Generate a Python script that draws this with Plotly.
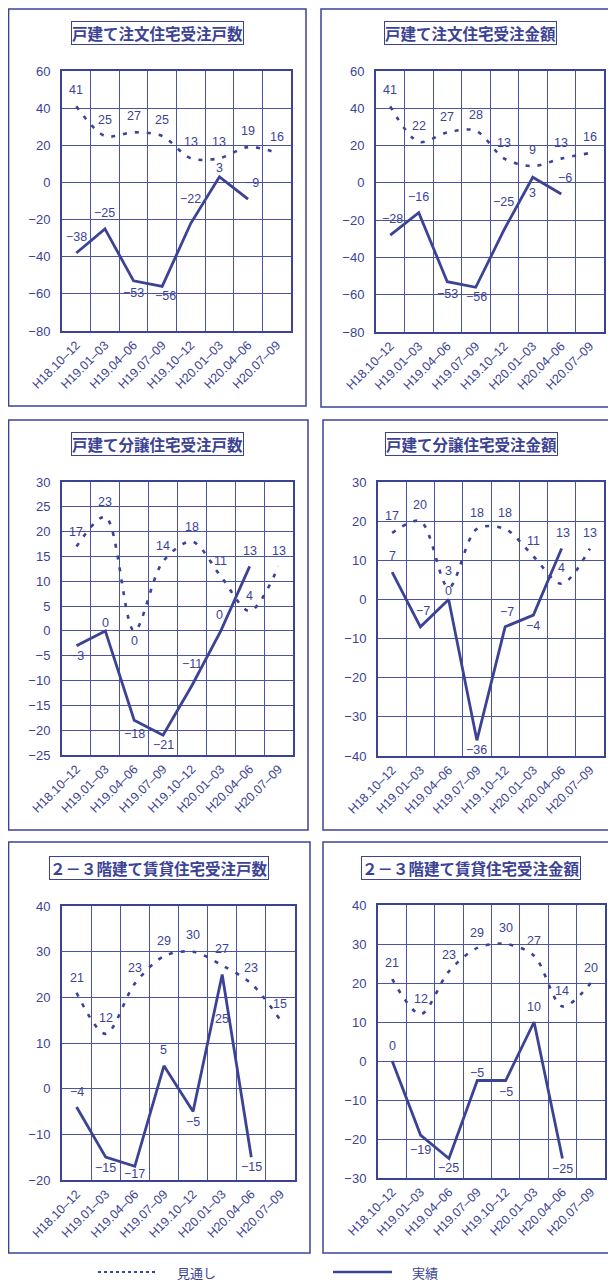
import plotly.graph_objects as go

W, H = 616, 1280
OFF = 8  # page body margin offset
NAVY = "#3c4395"
GRID = "#4d53a3"

categories = ["H18.10–12", "H19.01–03", "H19.04–06", "H19.07–09",
              "H19.10–12", "H20.01–03", "H20.04–06", "H20.07–09"]

titles = ["戸建て注文住宅受注戸数", "戸建て注文住宅受注金額",
          "戸建て分譲住宅受注戸数", "戸建て分譲住宅受注金額",
          "２－３階建て賃貸住宅受注戸数", "２－３階建て賃貸住宅受注金額"]

forecast_1 = [41, 25, 27, 25, 13, 13, 19, 16]
actual_1 = [-38, -25, -53, -56, -22, 3, -9, None]
forecast_2 = [41, 22, 27, 28, 13, 9, 13, 16]
actual_2 = [-28, -16, -53, -56, -25, 3, -6, None]
forecast_3 = [17, 23, 0, 14, 18, 11, 4, 13]
actual_3 = [-3, 0, -18, -21, -11, 0, 13, None]
forecast_4 = [17, 20, 3, 18, 18, 11, 4, 13]
actual_4 = [7, -7, 0, -36, -7, -4, 13, None]
forecast_5 = [21, 12, 23, 29, 30, 27, 23, 15]
actual_5 = [-4, -15, -17, 5, -5, 25, -15, None]
forecast_6 = [21, 12, 23, 29, 30, 27, 14, 20]
actual_6 = [0, -19, -25, -5, -5, 10, -25, None]

y_ranges = [(-80, 60, 20), (-80, 60, 20), (-25, 30, 5),
            (-40, 30, 10), (-20, 40, 10), (-30, 40, 10)]

legend_names = ["見通し", "実績"]

forecasts = [forecast_1, forecast_2, forecast_3, forecast_4, forecast_5, forecast_6]
actuals = [actual_1, actual_2, actual_3, actual_4, actual_5, actual_6]

# ---- layout geometry (pixels in the final picture) ----
plot_px = [(62, 291, 71, 331), (376, 604, 71, 332),
           (62, 293, 482, 755), (378, 604, 482, 756),
           (62, 295, 906, 1180), (378, 605, 905, 1178)]
border_px = [(8.6, 306, 9, 406), (321, 626, 9, 407),
             (8.6, 308, 420, 830), (323, 626, 420, 830),
             (8.6, 310, 842, 1253), (323, 626, 842, 1253)]
title_px = [(157, 33), (470, 33), (157, 444), (471, 444), (158.5, 867.5), (470.5, 867.5)]

f_shift = [[16] * 8, [16] * 8,
           [15, 15, -10, 15, 15, 15, 15, 15],
           [17, 16, 17, 16, 16, 15, 16, 16],
           [15, 16, 16, 15, 17, 16, 16, 16],
           [16, 15, 16, 15, 16, 15, 15, 15]]
a_shift = [[16, 16, -12, -10, 24, 9, 16],
           [16, 16, -12, -10, 27, -16, 16],
           [-10, 8, -14, -10, 22, 16, 15],
           [16, 16, 8, -10, 15, -11, 16],
           [15, -11, -8, 16, -10, -44, -10],
           [15, -15, -9, 8, -11, 15, -10]]
a_xshift = [[0, 0, 0, 3, 0, 0, 4],
            [2, 0, 0, 1, -1, 0, 4],
            [1, 0, 0, 0, 0, -1, 0],
            [0, 3, 0, 0, 2, 0, 1],
            [0, 0, 0, 0, 0, 0, 0],
            [0, 0, 0, 0, 0, 0, 0]]


def px(x):
    return (x - OFF) / W


def py(y):
    return 1 - (y - OFF) / H


def fmt(v):
    return str(v).replace("-", "−")


fig = go.Figure()
shapes = []
annotations = []
layout_axes = {}

for i in range(6):
    n = i + 1
    xa = "x" if n == 1 else f"x{n}"
    ya = "y" if n == 1 else f"y{n}"
    fig.add_trace(go.Scatter(
        x=categories, y=forecasts[i], mode="lines", xaxis=xa, yaxis=ya,
        line=dict(color=NAVY, width=2.6, dash="4px,8px", shape="spline", smoothing=0.9),
        showlegend=False, hoverinfo="skip"))
    fig.add_trace(go.Scatter(
        x=categories, y=actuals[i], mode="lines", xaxis=xa, yaxis=ya,
        line=dict(color=NAVY, width=2.8), connectgaps=False,
        showlegend=False, hoverinfo="skip"))

    x0, x1, y0, y1 = plot_px[i]
    lo, hi, dt = y_ranges[i]
    xkey = "xaxis" if n == 1 else f"xaxis{n}"
    ykey = "yaxis" if n == 1 else f"yaxis{n}"
    layout_axes[xkey] = dict(
        domain=[px(x0), px(x1)], anchor=ya, type="category",
        categoryorder="array", categoryarray=categories,
        tickson="boundaries", showgrid=True, gridcolor=GRID, gridwidth=1,
        showline=True, mirror=True, linecolor=NAVY, linewidth=2,
        ticks="outside", ticklen=9, tickcolor="rgba(0,0,0,0)",
        tickangle=-45, tickfont=dict(family="Liberation Sans", size=12.5, color=NAVY),
        range=[-0.5, 7.5], fixedrange=True, automargin=False)
    layout_axes[ykey] = dict(
        domain=[py(y1), py(y0)], anchor=xa, range=[lo, hi], dtick=dt,
        tick0=0, showgrid=True, gridcolor=GRID, gridwidth=1, zeroline=False,
        showline=True, mirror=True, linecolor=NAVY, linewidth=2,
        ticks="outside", ticklen=7, tickcolor="rgba(0,0,0,0)",
        tickfont=dict(family="Liberation Sans", size=13, color=NAVY),
        fixedrange=True, automargin=False)

    bx0, bx1, by0, by1 = border_px[i]
    shapes.append(dict(type="rect", xref="paper", yref="paper",
                       x0=px(bx0), x1=px(bx1), y0=py(by1), y1=py(by0),
                       line=dict(color=NAVY, width=1.5), fillcolor="rgba(0,0,0,0)"))
    tx, ty = title_px[i]
    annotations.append(dict(
        text=f"<b>{titles[i]}</b>", xref="paper", yref="paper",
        x=px(tx), y=py(ty), xanchor="center", yanchor="middle", showarrow=False,
        font=dict(family="Noto Sans CJK JP", size=15.5, color=NAVY),
        bordercolor=NAVY, borderwidth=1, borderpad=0, bgcolor="white"))
    for j, v in enumerate(forecasts[i]):
        annotations.append(dict(
            text=fmt(v), x=categories[j], y=v, xref=xa, yref=ya, showarrow=False,
            xanchor="center", yanchor="middle",
            yshift=f_shift[i][j], font=dict(family="Liberation Sans", size=12.5, color=NAVY)))
    for j, v in enumerate(actuals[i]):
        if v is None:
            continue
        annotations.append(dict(
            text=fmt(v), x=categories[j], y=v, xref=xa, yref=ya, showarrow=False,
            xanchor="center", yanchor="middle",
            yshift=a_shift[i][j], xshift=a_xshift[i][j],
            font=dict(family="Liberation Sans", size=12.5, color=NAVY)))

# legend at the bottom
shapes.append(dict(type="line", xref="paper", yref="paper",
                   x0=px(98), x1=px(158), y0=py(1272), y1=py(1272),
                   line=dict(color=NAVY, width=2, dash="dot")))
shapes.append(dict(type="line", xref="paper", yref="paper",
                   x0=px(333), x1=px(392), y0=py(1272), y1=py(1272),
                   line=dict(color=NAVY, width=2.5)))
annotations.append(dict(text=legend_names[0], xref="paper", yref="paper",
                        x=px(196), y=py(1272), xanchor="center", yanchor="middle",
                        showarrow=False,
                        font=dict(family="Noto Sans CJK JP", size=13, color=NAVY)))
annotations.append(dict(text=legend_names[1], xref="paper", yref="paper",
                        x=px(424.5), y=py(1272), xanchor="center", yanchor="middle",
                        showarrow=False,
                        font=dict(family="Noto Sans CJK JP", size=13, color=NAVY)))

fig.update_layout(
    width=W, height=H, margin=dict(l=0, r=0, t=0, b=0),
    paper_bgcolor="white", plot_bgcolor="white",
    shapes=shapes, annotations=annotations, showlegend=False,
    **layout_axes)

fig.write_html("out.html", config={"displayModeBar": False})
